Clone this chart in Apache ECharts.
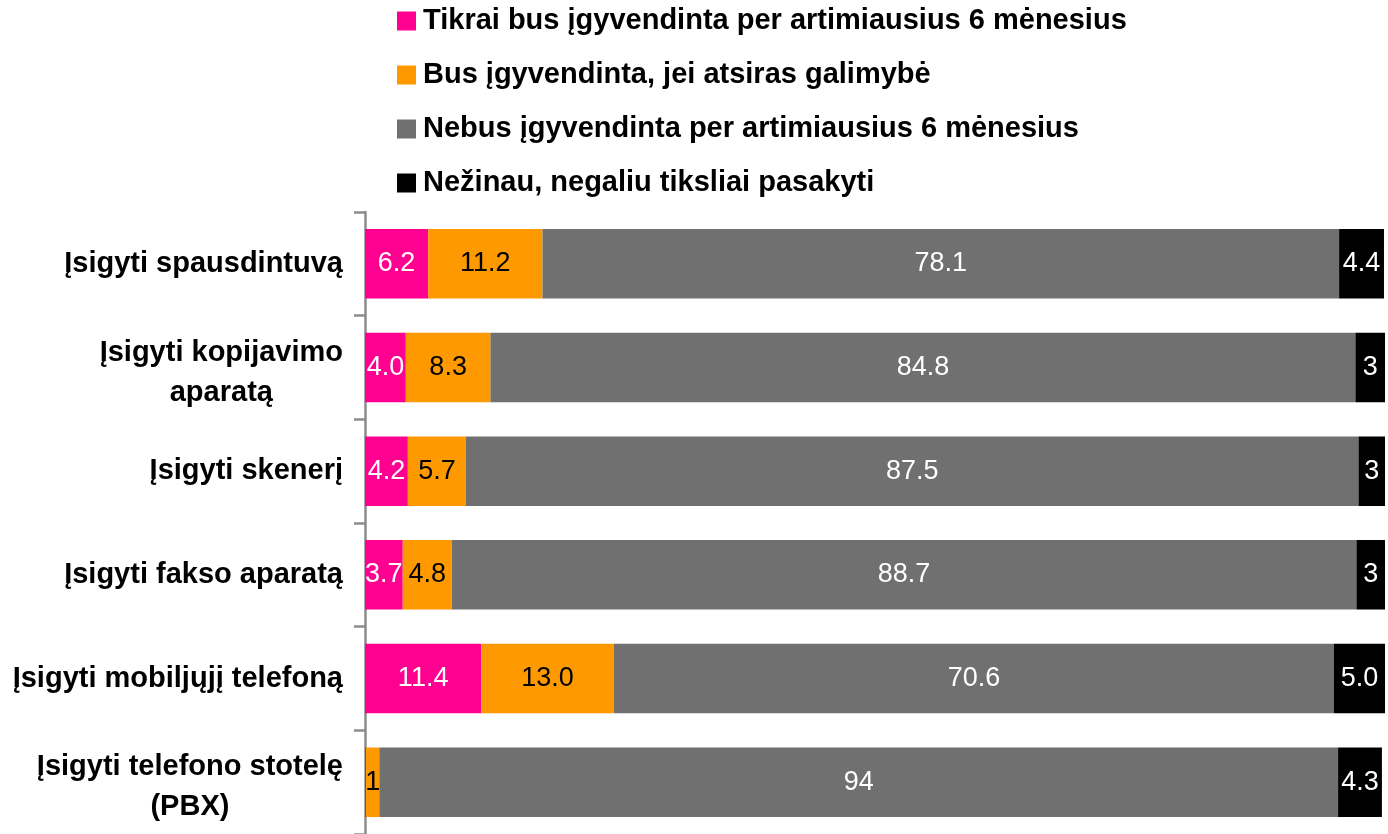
<!DOCTYPE html>
<html>
<head>
<meta charset="utf-8">
<script src="https://cdn.jsdelivr.net/npm/echarts@6/dist/echarts.min.js"></script>
<style>
  html, body { margin: 0; padding: 0; background: #fff; }
  #chart { width: 1388px; height: 834px; }
</style>
</head>
<body>
<div id="chart"></div>
<script>
// categories, top to bottom
const categories = [
  'Įsigyti spausdintuvą',
  'Įsigyti kopijavimo\naparatą',
  'Įsigyti skenerį',
  'Įsigyti fakso aparatą',
  'Įsigyti mobiljųjį telefoną',
  'Įsigyti telefono stotelę\n(PBX)'
]

const seriesNames = [
  'Tikrai bus įgyvendinta per artimiausius 6 mėnesius',
  'Bus įgyvendinta, jei atsiras galimybė',
  'Nebus įgyvendinta per artimiausius 6 mėnesius',
  'Nežinau, negaliu tiksliai pasakyti'
]

// values (%)
const tikrai = [6.2, 4.0, 4.2, 3.7, 11.4, 0.1]
const galimybe = [11.2, 8.3, 5.7, 4.8, 13.0, 1.3]
const nebus = [78.1, 84.8, 87.5, 88.7, 70.6, 94]
const nezinau = [4.4, 3, 3, 3, 5.0, 4.3]

// data labels as printed in the chart
const tikraiLabels = ['6.2', '4.0', '4.2', '3.7', '11.4', '']
const galimybeLabels = ['11.2', '8.3', '5.7', '4.8', '13.0', '1']
const nebusLabels = ['78.1', '84.8', '87.5', '88.7', '70.6', '94']
const nezinauLabels = ['4.4', '3', '3', '3', '5.0', '4.3']

const colors = ['#ff0090', '#ff9900', '#707070', '#000000']
const labelColors = ['#fff', '#000', '#fff', '#fff']
const font = 'Liberation Sans, Arial, sans-serif'

function makeSeries(name, data, labels, idx) {
  return {
    name: name,
    type: 'bar',
    stack: 'total',
    barCategoryGap: '33%',
    data: data,
    itemStyle: { color: colors[idx] },
    label: {
      show: true,
      position: 'inside',
      color: labelColors[idx],
      fontFamily: font,
      fontSize: 27,
      formatter: function (p) { return labels[p.dataIndex] }
    }
  }
}

const chart = echarts.init(document.getElementById('chart'))
chart.setOption({
  animation: false,
  color: colors,
  legend: {
    orient: 'vertical',
    left: 392,
    top: 1,
    itemWidth: 19,
    itemHeight: 19,
    itemGap: 24,
    icon: 'rect',
    data: seriesNames,
    textStyle: {
      fontFamily: font,
      fontWeight: 'bold',
      fontSize: 29,
      lineHeight: 30,
      color: '#000',
      padding: [0, 0, 0, 2]
    }
  },
  grid: {
    left: 365,
    right: 3,
    top: 212,
    bottom: -4
  },
  xAxis: {
    type: 'value',
    min: 0,
    max: 100,
    show: false,
    splitLine: { show: false }
  },
  yAxis: {
    type: 'category',
    inverse: true,
    data: categories,
    axisLine: { show: true, lineStyle: { color: '#8c8c8c', width: 2.5 } },
    axisTick: { show: true, length: 11, lineStyle: { color: '#8c8c8c', width: 2.5 } },
    axisLabel: {
      margin: 22,
      formatter: function (v) {
        const lines = v.split('\n')
        const body = lines.map(function (s) { return '{a|' + s + '}' }).join('\n')
        // two-line labels sit a little below the band centre
        return lines.length > 1 ? '{s| }\n' + body : body
      },
      rich: {
        a: {
          align: 'center',
          fontFamily: font,
          fontWeight: 'bold',
          fontSize: 29,
          lineHeight: 40,
          color: '#000'
        },
        s: { fontSize: 1, lineHeight: 10 }
      }
    }
  },
  series: [
    makeSeries(seriesNames[0], tikrai, tikraiLabels, 0),
    makeSeries(seriesNames[1], galimybe, galimybeLabels, 1),
    makeSeries(seriesNames[2], nebus, nebusLabels, 2),
    makeSeries(seriesNames[3], nezinau, nezinauLabels, 3)
  ]
})
</script>
</body>
</html>
